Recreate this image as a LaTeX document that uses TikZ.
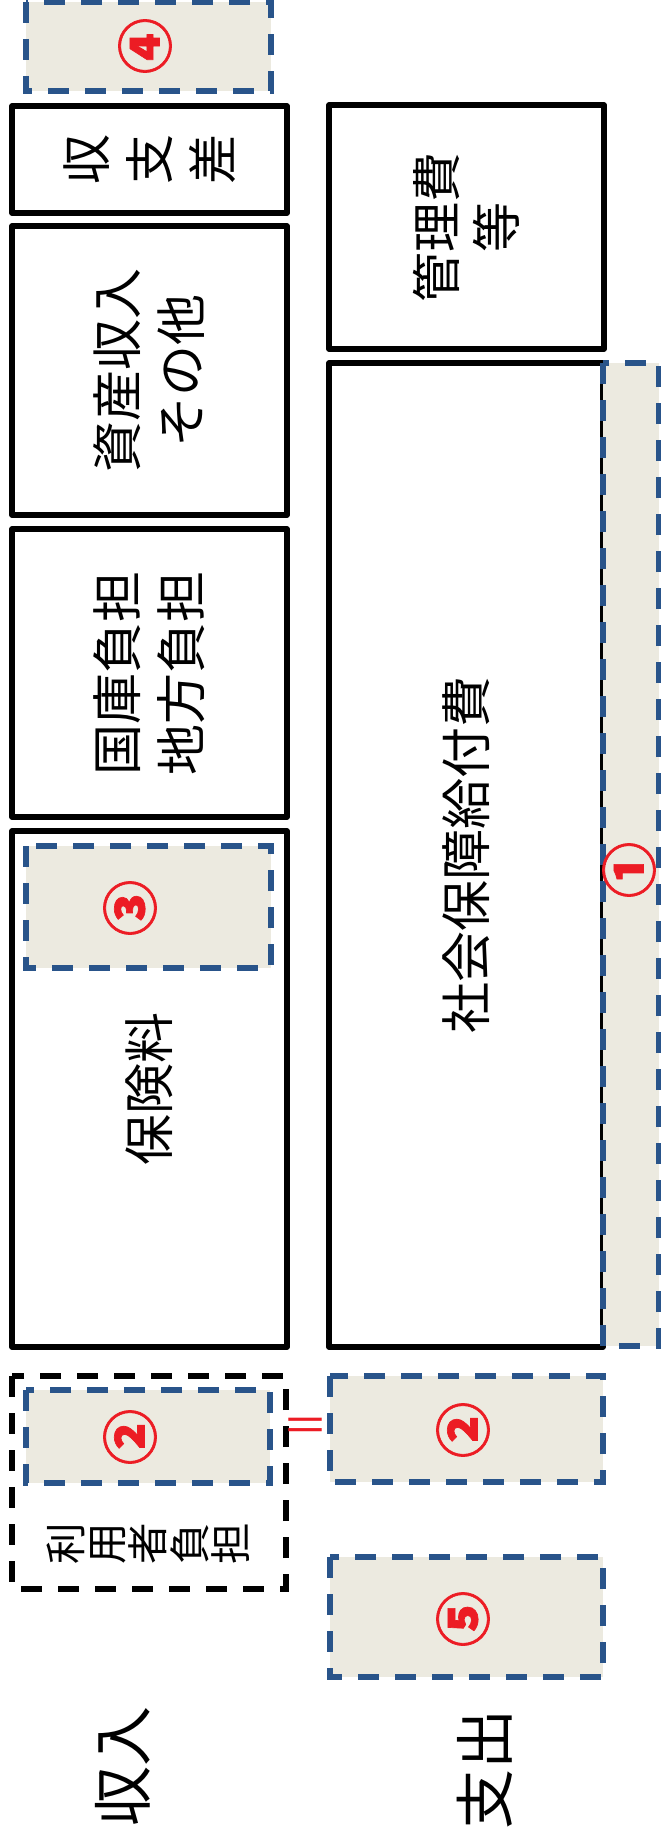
\documentclass[tikz,border=0pt]{standalone}
\usepackage{fontspec}
\newfontfamily\jp{Noto Sans CJK JP}
\newfontfamily\jpnum{Noto Sans CJK JP}[BoldFeatures={FakeBold=1.2}]
\definecolor{dblue}{RGB}{41,84,138}
\definecolor{tanfill}{RGB}{236,234,224}
\definecolor{nred}{RGB}{236,28,36}
\begin{document}
\begin{tikzpicture}[x=1pt,y=-1pt,
  solidbox/.style={draw=black, line width=5.5pt, line join=round, inner sep=0pt, rotate=90, align=center, font=\jp\fontsize{51}{64}\selectfont},
  bluebox/.style={draw=dblue, fill=tanfill, line width=5.5pt, dash pattern=on 21pt off 16pt, inner sep=0pt, rotate=90},
  blackdash/.style={draw=black, line width=5.5pt, dash pattern=on 21pt off 16pt, inner sep=0pt, rotate=90},
  num/.style={text=nred, font=\jpnum\bfseries\fontsize{56}{56}\selectfont, rotate=90, inner sep=0pt},
  txt/.style={inner sep=0pt, rotate=90, align=center},
  eqsign/.style={text=nred, inner sep=0pt, font=\jp\fontsize{46}{46}\selectfont}
]
\useasboundingbox (0,0) rectangle (661,1836);

% revenue column
\node[bluebox, minimum width=89pt, minimum height=245pt] (box4) at (148.5,46.5) {};
\node[num] (n4) at (145,46) {④};
\node[solidbox, minimum width=107pt, minimum height=275pt, font=\jp\fontsize{50}{63}\selectfont] (shushi) at (149.5,159.5) {収\\支\\差};
\node[solidbox, minimum width=289pt, minimum height=275pt] (shisan) at (149.5,370.5) {資産収入\\その他};
\node[solidbox, minimum width=288pt, minimum height=275pt] (kokko) at (149.5,673) {国庫負担\\地方負担};
\node[solidbox, minimum width=516pt, minimum height=275pt] (hoken) at (149.5,1089) {保険料};
\node[bluebox, minimum width=122pt, minimum height=245pt] (box3) at (148.5,907) {};
\node[num] (n3) at (130,908) {③};
\node[blackdash, minimum width=213pt, minimum height=274pt] (riyou) at (149,1482.5) {};
\node[txt, font=\jp\fontsize{41.5}{41.4}\selectfont] (riyoutxt) at (148,1544) {利\\用\\者\\負\\担};
\node[bluebox, minimum width=93pt, minimum height=244pt] (box2L) at (148,1436.5) {};
\node[num] (n2L) at (130,1437) {②};

% expenditure column
\node[solidbox, minimum width=244pt, minimum height=275pt, font=\jp\fontsize{50}{60}\selectfont] (kanri) at (466.5,227) {管理費\\等};
\node[solidbox, minimum width=984pt, minimum height=274pt] (shakai) at (466,855) {社会保障給付費};
\node[bluebox, minimum width=983pt, minimum height=56pt] (box1) at (631,854.5) {};
\node[num] (n1) at (629,870) {①};
\node[bluebox, minimum width=106pt, minimum height=273pt] (box2R) at (466.5,1429) {};
\node[num] (n2R) at (463,1430) {②};
\node[bluebox, minimum width=120pt, minimum height=273pt] (box5) at (466.5,1617) {};
\node[num] (n5) at (463,1619) {⑤};

% equal sign between the two (2) boxes
\node[eqsign] (eq) at (305,1430) {＝};

% row labels
\node[txt, font=\jp\fontsize{60}{60}\selectfont] (lblin) at (123,1766) {収入};
\node[txt, font=\jp\fontsize{60}{60}\selectfont] (lblout) at (485,1769) {支出};
\end{tikzpicture}
\end{document}
